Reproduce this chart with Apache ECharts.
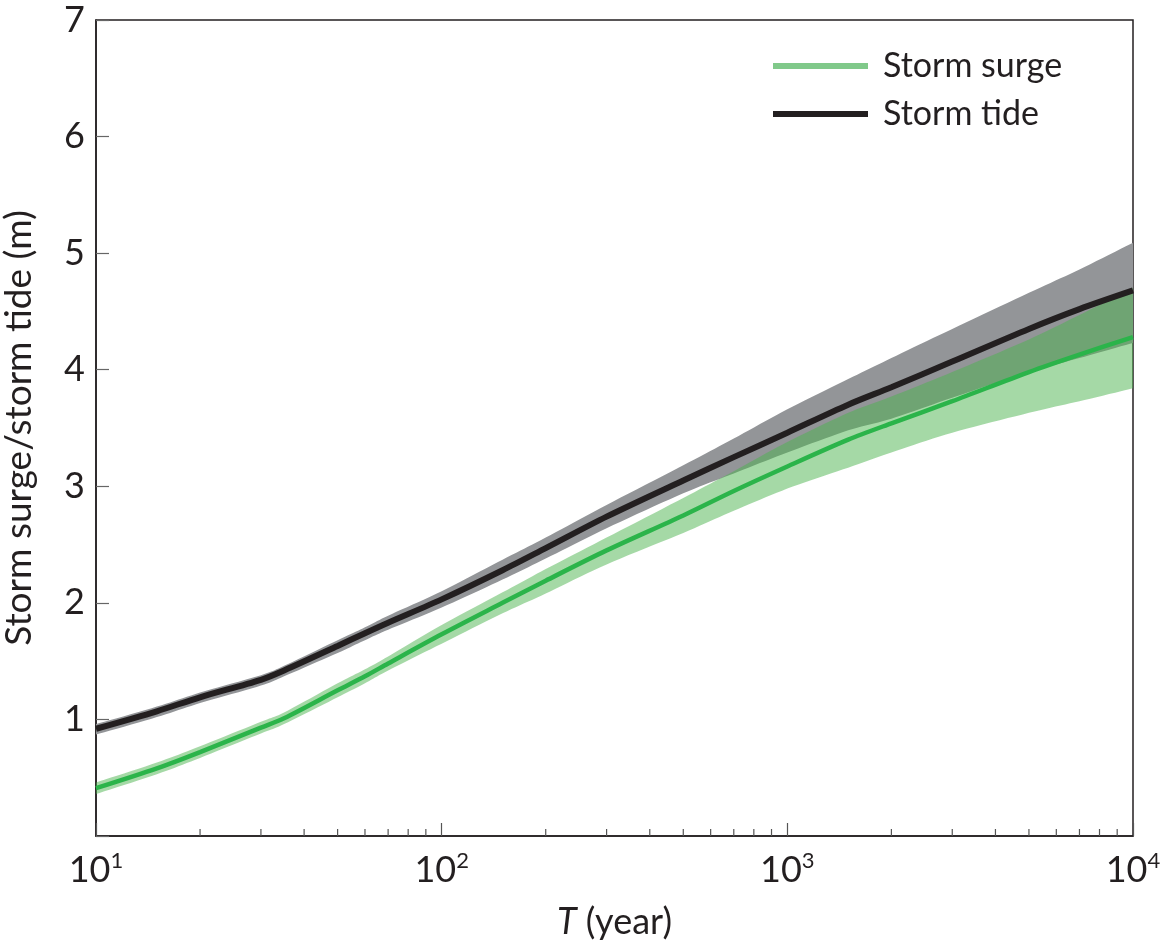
<!DOCTYPE html>
<html>
<head>
<meta charset="utf-8">
<script src="https://cdn.jsdelivr.net/npm/echarts@6/dist/echarts.min.js"></script>
<style>
html,body{margin:0;padding:0;background:#fff;}
#chart{width:1165px;height:944px;}
</style>
</head>
<body>
<div id="chart"></div>
<script>
// Return period T (year)
const T = [10, 15, 20, 30, 35, 50, 60, 70, 100, 150, 200, 300, 500, 700, 1000, 1500, 2000, 3000, 5000, 7000, 10000];
// Storm tide (m): median and uncertainty band
const tideMid   = [0.92, 1.07, 1.19, 1.34, 1.42, 1.63, 1.74, 1.83, 2.03, 2.28, 2.47, 2.74, 3.05, 3.25, 3.46, 3.70, 3.85, 4.07, 4.35, 4.52, 4.68];
const tideUpper = [0.96, 1.11, 1.23, 1.38, 1.46, 1.68, 1.79, 1.89, 2.10, 2.37, 2.56, 2.84, 3.18, 3.41, 3.66, 3.92, 4.10, 4.35, 4.66, 4.86, 5.09];
const tideLower = [0.87, 1.02, 1.14, 1.29, 1.37, 1.57, 1.68, 1.77, 1.96, 2.20, 2.38, 2.64, 2.94, 3.11, 3.29, 3.48, 3.58, 3.76, 3.98, 4.10, 4.23];
// Storm surge (m): median and uncertainty band
const surgeMid   = [0.41, 0.58, 0.72, 0.93, 1.01, 1.25, 1.37, 1.48, 1.73, 2.00, 2.19, 2.45, 2.75, 2.96, 3.17, 3.40, 3.54, 3.73, 3.98, 4.13, 4.28];
const surgeUpper = [0.46, 0.63, 0.77, 0.98, 1.06, 1.31, 1.43, 1.54, 1.81, 2.09, 2.29, 2.56, 2.90, 3.13, 3.38, 3.63, 3.77, 3.98, 4.26, 4.47, 4.70];
const surgeLower = [0.36, 0.53, 0.67, 0.88, 0.96, 1.19, 1.31, 1.42, 1.65, 1.91, 2.08, 2.33, 2.60, 2.79, 2.98, 3.16, 3.29, 3.46, 3.63, 3.73, 3.84];
// Minor tick positions on the log axis
const minorTicks = [20, 30, 40, 50, 60, 70, 80, 90, 200, 300, 400, 500, 600, 700, 800, 900, 2000, 3000, 4000, 5000, 6000, 7000, 8000, 9000];
const yTicks = [0, 1, 2, 3, 4, 5, 6, 7];

const FONT = 'Lato';
const TXT = '#231f20';
const SMOOTH = 0.3;

// Smooth a list of pixel points (from api.coord) with Catmull-Rom style cubic segments
function smoothPixels(pts, k) {
  const out = [pts[0]];
  const n = pts.length;
  for (let i = 0; i < n - 1; i++) {
    const p0 = pts[Math.max(i - 1, 0)], p1 = pts[i], p2 = pts[i + 1], p3 = pts[Math.min(i + 2, n - 1)];
    const c1 = [p1[0] + (p2[0] - p0[0]) * k, p1[1] + (p2[1] - p0[1]) * k];
    const c2 = [p2[0] - (p3[0] - p1[0]) * k, p2[1] - (p3[1] - p1[1]) * k];
    for (let s = 1; s <= 10; s++) {
      const t = s / 10, u = 1 - t;
      out.push([
        u * u * u * p1[0] + 3 * u * u * t * c1[0] + 3 * u * t * t * c2[0] + t * t * t * p2[0],
        u * u * u * p1[1] + 3 * u * u * t * c1[1] + 3 * u * t * t * c2[1] + t * t * t * p2[1]
      ]);
    }
  }
  return out;
}

function bandSeries(name, lower, upper, color) {
  return {
    type: 'custom',
    name: name,
    silent: true,
    clip: true,
    data: T.map((t, i) => [t, lower[i], upper[i]]),
    encode: { x: 0, y: [1, 2] },
    renderItem: function (params, api) {
      if (params.dataIndex !== 0) return null;
      const up = smoothPixels(T.map((t, i) => api.coord([t, upper[i]])), 0.15);
      const lo = smoothPixels(T.map((t, i) => api.coord([t, lower[i]])), 0.15);
      const pts = up.concat(lo.reverse());
      return { type: 'polygon', shape: { points: pts }, style: { fill: color } };
    }
  };
}

const chart = echarts.init(document.getElementById('chart'), null, { renderer: 'canvas' });
chart.setOption({
  animation: false,
  backgroundColor: '#fff',
  textStyle: { fontFamily: FONT, color: TXT },
  grid: { left: 96, right: 32, top: 20, bottom: 108, containLabel: false, outerBoundsMode: 'none',
          show: true, borderColor: '#231f20', borderWidth: 1.5, backgroundColor: 'transparent' },
  legend: {
    left: 773, top: 46, padding: 0, orient: 'vertical', icon: 'rect', itemWidth: 95, itemHeight: 6, itemGap: 8,
    textStyle: { fontFamily: FONT, fontSize: 34, color: TXT, lineHeight: 40, padding: [0, 0, 0, 10] },
    data: [
      { name: 'Storm surge', itemStyle: { color: '#80c98a' } },
      { name: 'Storm tide', itemStyle: { color: '#231f20' } }
    ]
  },
  xAxis: {
    type: 'log', logBase: 10, min: 10, max: 10000,
    name: '{i|T} (year)', nameLocation: 'middle', nameGap: 68,
    nameTextStyle: { fontFamily: FONT, fontSize: 36, color: TXT, rich: { i: { fontFamily: FONT, fontSize: 36, fontStyle: 'italic', color: TXT } } },
    axisLine: { show: true, lineStyle: { color: '#231f20', width: 1.5 } },
    axisTick: { show: true, inside: true, length: 13, lineStyle: { color: '#555', width: 1.2 } },
    splitLine: { show: false },
    axisLabel: {
      margin: 14, color: TXT,
      formatter: function (v) { return '{b|10}{s|' + Math.round(Math.log10(v)) + '}'; },
      rich: {
        b: { fontFamily: FONT, fontSize: 36, color: TXT, lineHeight: 40 },
        s: { fontFamily: FONT, fontSize: 22, color: TXT, verticalAlign: 'top', lineHeight: 22 }
      }
    }
  },
  yAxis: {
    type: 'value', min: yTicks[0], max: yTicks[yTicks.length - 1], interval: 1,
    name: 'Storm surge/storm tide (m)', nameLocation: 'middle', nameGap: 58,
    nameTextStyle: { fontFamily: FONT, fontSize: 37, color: TXT },
    axisLine: { show: true, lineStyle: { color: '#231f20', width: 1.5 } },
    axisTick: { show: true, inside: true, length: 13, lineStyle: { color: '#666', width: 1.2 } },
    splitLine: { show: false },
    axisLabel: { margin: 11, fontFamily: FONT, fontSize: 36, color: TXT, formatter: v => (v === 0 ? '' : String(v)) }
  },
  series: [
    bandSeries('tideBand', tideLower, tideUpper, '#939598'),
    {
      type: 'line', name: 'Storm tide', data: T.map((t, i) => [t, tideMid[i]]), smooth: SMOOTH,
      showSymbol: false, symbol: 'none', lineStyle: { color: '#231f20', width: 6 }, itemStyle: { color: '#231f20' }, silent: true
    },
    bandSeries('surgeBand', surgeLower, surgeUpper, 'rgba(75,179,77,0.5)'),
    {
      type: 'line', name: 'Storm surge', data: T.map((t, i) => [t, surgeMid[i]]), smooth: SMOOTH,
      showSymbol: false, symbol: 'none', lineStyle: { color: '#2bb44a', width: 4.5 }, itemStyle: { color: '#2bb44a' }, silent: true
    },
    {
      type: 'custom', name: 'minorTicks', silent: true, z: 10,
      data: minorTicks.map(v => [v, 0]),
      encode: { x: 0, y: 1 },
      renderItem: function (params, api) {
        const p = api.coord([api.value(0), 0]);
        return { type: 'line', shape: { x1: p[0], y1: p[1], x2: p[0], y2: p[1] - 7 }, style: { stroke: '#555', lineWidth: 1.2 } };
      }
    }
  ]
});
</script>
</body>
</html>
